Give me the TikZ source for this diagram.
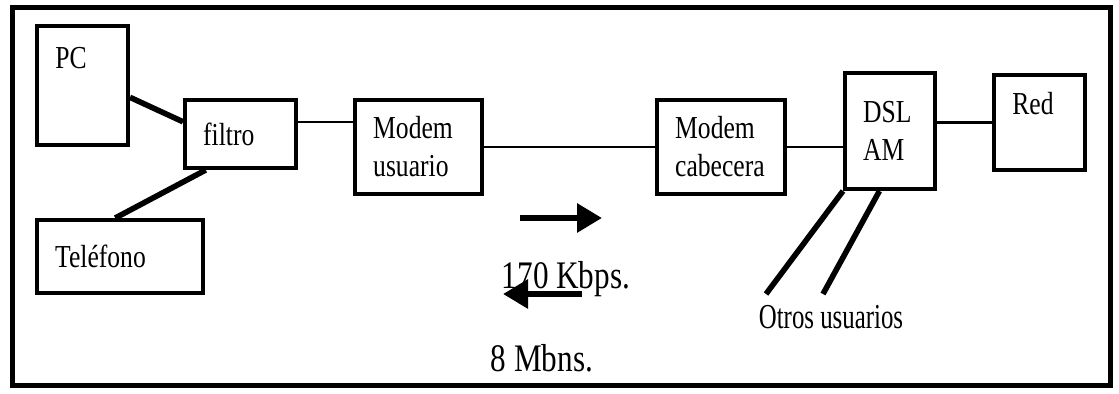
\documentclass[tikz,border=0pt]{standalone}
\usepackage{fontspec}
\setmainfont{Liberation Serif}[FakeStretch=0.8]
\newfontfamily\narrowserif{Liberation Serif}[FakeStretch=0.71]
\usepackage{tikz}
\usetikzlibrary{arrows.meta}
\tikzset{block/.style={draw,line width=2.2pt,inner xsep=9pt,inner ysep=0pt,align=left,font=\fontsize{16}{19}\selectfont}, blocktext/.style={inner sep=0pt,font=\fontsize{16}{19}\selectfont}, wire/.style={line width=1.2pt}, heavywire/.style={line width=2.8pt}, flowarrow/.style={line width=3pt,-{Triangle[length=12.5pt,width=14pt]}}, note/.style={inner sep=0pt,font=\fontsize{19.5}{23}\selectfont}, frameline/.style={line width=2.5pt}}

\begin{document}
\begin{tikzpicture}[x=0.5pt,y=-0.5pt]
\useasboundingbox (0,0) rectangle (1119,394);
\draw[frameline] (12.5,7.5) rectangle (1110.5,385.5);
\node[block,text width=27.3pt,minimum height=59.3pt] (pc) at (82.5,85.5) {};
\node[blocktext,anchor=north west] (pctxt) at ([xshift=10pt,yshift=-11.5pt]pc.north west) {PC};
\node[block,text width=37.3pt,minimum height=33.8pt] (filtro) at (240.5,134) {filtro};
\node[block,text width=64.8pt,minimum height=36.3pt] (tel) at (120,256.5) {Teléfono};
\node[block,text width=45.3pt,minimum height=46.8pt] (modu) at (418.5,147) {Modem\\usuario};
\node[block,text width=45.8pt,minimum height=46.8pt] (modc) at (721,147) {Modem\\cabecera};
\node[block,text width=26.8pt,minimum height=57.8pt] (dslam) at (890,131) {DSL\\AM};
\node[block,text width=27.3pt,minimum height=47.3pt] (red) at (1039.5,122.5) {};
\node[blocktext,anchor=north west] (redtxt) at ([xshift=10pt,yshift=-9.5pt]red.north west) {Red};
\node[note,anchor=base] (kbps) at (566,289) {170 Kbps.};
\node[note,anchor=base] (mbns) at (542,372) {8 Mbns.};
\node[blocktext,font=\narrowserif\fontsize{17.5}{20}\selectfont,anchor=base] (otros) at (831,329) {Otros usuarios};
\coordinate (usr1) at (766,294);
\coordinate (usr2) at (823,294);
\coordinate (upA) at (520,218);
\coordinate (upB) at (602,218);
\coordinate (dnA) at (582,294);
\coordinate (dnB) at (503,294);
\draw[heavywire] (pc.-14) -- (filtro.168);
\draw[heavywire] (tel.97) -- (filtro.226);
\draw[wire] (filtro.12) -- (filtro.12 -| modu.west);
\draw[wire] (modu) -- (modc);
\draw[wire] (modc.east) -- (modc.east -| dslam.west);
\draw[wire] (red.west -| dslam.east) -- (red.west);
\draw[heavywire] (dslam.south west) -- (usr1);
\draw[heavywire] (dslam.260) -- (usr2);
\draw[flowarrow] (upA) -- (upB);
\draw[flowarrow] (dnA) -- (dnB);
\end{tikzpicture}
\end{document}
